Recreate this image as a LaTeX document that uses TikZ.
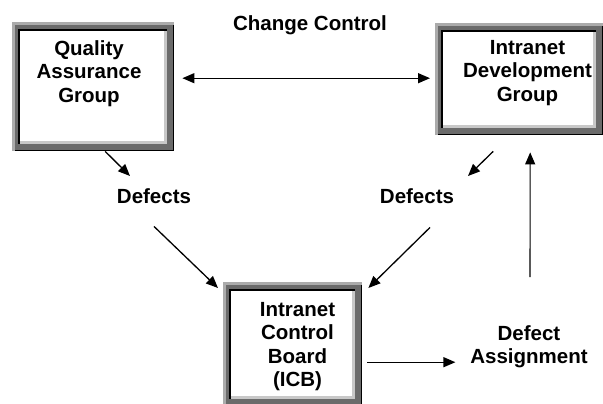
\documentclass[tikz,border=0pt]{standalone}
\usepackage{fontspec}
\setmainfont{Liberation Sans}
\usetikzlibrary{arrows.meta}
\definecolor{frlight}{HTML}{ABABAB}
\definecolor{frdark}{HTML}{6B6B6B}
\definecolor{frinner}{HTML}{C8C8C8}
\tikzset{
  fancybox/.style={rectangle, inner sep=0pt, anchor=north west, fill=frlight,
    path picture={
      \fill[black] ([xshift=3pt,yshift=-3pt]path picture bounding box.north west) rectangle (path picture bounding box.south east);
      \fill[frdark] ([xshift=3pt,yshift=-3pt]path picture bounding box.north west) rectangle ([xshift=-1.2pt,yshift=1.2pt]path picture bounding box.south east);
      \fill[black] ([xshift=6pt,yshift=-7pt]path picture bounding box.north west) rectangle ([xshift=-7pt,yshift=7pt]path picture bounding box.south east);
      \fill[frinner] ([xshift=8pt,yshift=-9pt]path picture bounding box.north west) rectangle ([xshift=-7pt,yshift=7pt]path picture bounding box.south east);
      \fill[white] ([xshift=8pt,yshift=-9pt]path picture bounding box.north west) rectangle ([xshift=-10pt,yshift=10pt]path picture bounding box.south east);
    }},
  lbl/.style={inner sep=0pt, anchor=north, align=center, font=\bfseries\fontsize{20.5}{23.5}\selectfont},
  conn/.style={line width=1.3pt, -{Triangle[length=12pt,width=10pt]}},
  dconn/.style={line width=1.3pt, {Triangle[length=12pt,width=10pt]}-{Triangle[length=12pt,width=10pt]}},
}
\begin{document}
\begin{tikzpicture}[x=1pt,y=-1pt]
\useasboundingbox (0,0) rectangle (603,404);
% boxes
\node[fancybox, minimum width=162pt, minimum height=129pt] (qa) at (12,22) {};
\node[fancybox, minimum width=168pt, minimum height=112pt] (idg) at (435,23) {};
\node[fancybox, minimum width=139pt, minimum height=124pt] (icb) at (223,282) {};
% texts
\node[lbl] (qat) at (89,40) {Quality\\Assurance\\Group};
\node[lbl] (idgt) at (527.5,40) {Intranet\\Development\\Group};
\node[lbl] (icbt) at (297.5,302) {Intranet\\Control\\Board\\(ICB)};
\node[lbl] (cc) at (310,15) {Change Control};
\node[lbl] (dl) at (154,188) {Defects};
\node[lbl] (dr) at (417,188) {Defects};
\node[lbl] (da) at (529,325) {Defect\\Assignment};
% connectors
\draw[dconn] ([xshift=8pt,yshift=8.5pt]qa.east) -- ([xshift=-5pt,yshift=1pt]idg.west);
\draw[conn] ([xshift=12pt]qa.south) -- ([xshift=-24pt,yshift=12pt]dl.north);
\draw[conn] ([yshift=-23pt]dl.south) -- ([xshift=-5pt,yshift=-6pt]icb.north west);
\draw[conn] ([xshift=-26pt,yshift=-16pt]idg.south) -- ([xshift=51pt,yshift=12pt]dr.north);
\draw[conn] ([xshift=13pt,yshift=-24pt]dr.south) -- ([xshift=6pt,yshift=-6pt]icb.north east);
\draw[conn, line width=1.1pt] ([xshift=1pt,yshift=48pt]da.north) -- ([xshift=11pt,yshift=-17pt]idg.south);
\draw[conn] ([xshift=5pt,yshift=-18pt]icb.east) -- ([xshift=93pt,yshift=-18pt]icb.east);
\end{tikzpicture}
\end{document}
